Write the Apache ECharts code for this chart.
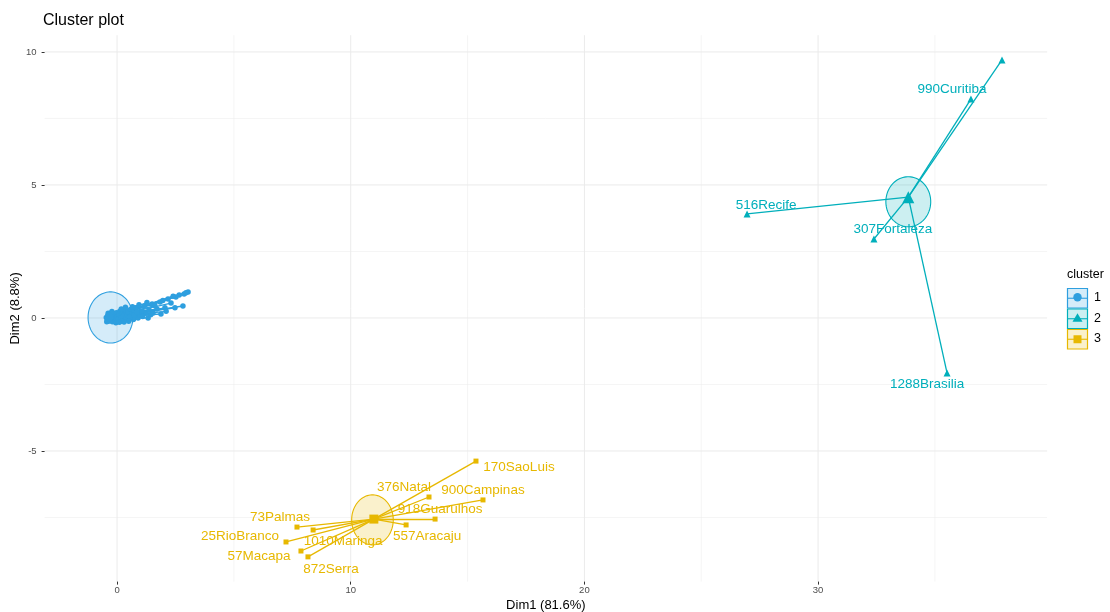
<!DOCTYPE html>
<html>
<head>
<meta charset="utf-8">
<script src="https://cdn.jsdelivr.net/npm/echarts@6/dist/echarts.min.js"></script>
<style>
  html, body { margin: 0; padding: 0; background: #ffffff; }
  #chart { width: 1110px; height: 612px; }
</style>
</head>
<body>
<div id="chart"></div>
<script>
// ---- data -----------------------------------------------------------------
const clusterNames = ['1', '2', '3'];
const clusterColors = ['#2E9FDF', '#00AFBB', '#E7B800'];

// cluster centres (Dim1, Dim2)
const centers = [
  [-0.33, 0.03],
  [33.86, 4.54],
  [10.99, -7.56]
];

// concentration ellipses: [centre x, centre y, radius x, radius y]
const ellipses = [
  [-0.28, 0.02, 0.96, 0.96],
  [33.86, 4.37, 0.96, 0.94],
  [10.93, -7.59, 0.89, 0.94]
];

// cluster 1 observations (unlabelled)
const cluster1Points = [
  [-0.46, 0.02], [-0.42, -0.06], [-0.40, 0.08], [-0.36, -0.12], [-0.33, 0.03],
  [-0.30, 0.12], [-0.27, -0.08], [-0.24, 0.06], [-0.20, -0.14], [-0.17, 0.15],
  [-0.14, 0.00], [-0.10, 0.09], [-0.07, -0.10], [-0.03, 0.20], [0.00, 0.04],
  [0.04, -0.06], [0.08, 0.14], [0.12, 0.25], [0.16, 0.02], [0.20, -0.12],
  [0.24, 0.18], [0.28, 0.08], [0.33, 0.30], [0.38, -0.04], [0.42, 0.12],
  [0.47, 0.22], [0.52, 0.03], [0.58, 0.32], [0.63, 0.15], [0.70, -0.06],
  [0.75, 0.26], [0.81, 0.38], [0.90, 0.00], [0.98, 0.11], [1.16, 0.45],
  [1.24, 0.19], [1.33, 0.00], [1.37, 0.30], [1.50, 0.53], [1.54, 0.19],
  [1.71, 0.34], [1.84, 0.60], [1.88, 0.15], [2.05, 0.38], [2.18, 0.71],
  [2.31, 0.56], [2.48, 0.38], [2.52, 0.79], [2.82, 0.45], [2.87, 0.90],
  [3.04, 0.98], [0.56, 0.04], [0.66, 0.42], [1.05, 0.25], [0.30, -0.15],
  [-0.44, -0.14], [-0.38, 0.18], [-0.22, 0.24], [-0.05, -0.18], [0.10, -0.16],
  [0.18, 0.34], [0.36, 0.40], [0.50, -0.12], [0.72, 0.10], [0.86, 0.22],
  [0.94, 0.50], [1.10, 0.06], [1.28, 0.58], [1.44, 0.12], [1.62, 0.46],
  [1.96, 0.66], [2.10, 0.25], [2.40, 0.82], [2.66, 0.86], [2.95, 0.95]
];

// cluster 2 observations
const cluster2Names = ['990Curitiba', '', '516Recife', '307Fortaleza', '1288Brasilia'];
const cluster2Points = [
  [36.54, 8.23], [37.87, 9.70], [26.96, 3.91], [32.39, 2.97], [35.52, -2.07]
];

// cluster 3 observations
const cluster3Names = ['170SaoLuis', '900Campinas', '376Natal', '918Guarulhos', '557Aracaju',
                       '73Palmas', '1010Maringa', '25RioBranco', '57Macapa', '872Serra'];
const cluster3Points = [
  [15.36, -5.38], [15.66, -6.84], [13.35, -6.73], [13.61, -7.56], [12.37, -7.78],
  [7.70, -7.86], [8.39, -7.97], [7.23, -8.42], [7.87, -8.76], [8.17, -8.98]
];

// axis breaks
const xMajor = [0, 10, 20, 30];
const xMinor = [5, 15, 25, 35];
const yMajor = [-5, 0, 5, 10];
const yMinor = [-7.5, -2.5, 2.5, 7.5];

// ---- label placement (pixel nudges away from each point) -------------------
const cluster2LabelNudge = [[-19, -10], [0, 0], [19, -9], [19, -10], [-20, 11]];
const cluster3LabelNudge = [
  [43, 6], [0, -10], [-25, -10], [5, -10], [21, 11],
  [-17, -10], [30, 11], [-46, -6], [-42, 5], [23, 12]
];

const allPoints = [cluster1Points, cluster2Points, cluster3Points];
const allNames = [null, cluster2Names, cluster3Names];
const allNudges = [null, cluster2LabelNudge, cluster3LabelNudge];
const pointSymbols = ['circle', 'triangle', 'rect'];
const pointSizes = [5.5, 7, 5];
const centerSizes = [9, 12, 9];

const FONT = '"Liberation Sans", Arial, Helvetica, sans-serif';

// ---- series ----------------------------------------------------------------
const series = [];

// background grid lines drawn through the axis scales
const gridData = [];
xMinor.forEach(v => gridData.push([0, v, 0.5]));
yMinor.forEach(v => gridData.push([1, v, 0.5]));
xMajor.forEach(v => gridData.push([0, v, 1]));
yMajor.forEach(v => gridData.push([1, v, 1]));
series.push({
  type: 'custom',
  silent: true,
  z: 0,
  data: gridData,
  renderItem: function (params, api) {
    const cs = params.coordSys;
    const dir = api.value(0);
    const v = api.value(1);
    const w = api.value(2);
    let shape;
    if (dir === 0) {
      const x = api.coord([v, 0])[0];
      shape = { x1: x, y1: cs.y, x2: x, y2: cs.y + cs.height };
    } else {
      const y = api.coord([0, v])[1];
      shape = { x1: cs.x, y1: y, x2: cs.x + cs.width, y2: y };
    }
    return { type: 'line', shape: shape, style: { stroke: '#EBEBEB', lineWidth: w } };
  }
});

// ellipses
ellipses.forEach((e, k) => {
  series.push({
    type: 'custom',
    silent: true,
    z: 1,
    data: [e],
    renderItem: function (params, api) {
      const cx = api.value(0), cy = api.value(1), rx = api.value(2), ry = api.value(3);
      const pts = [];
      for (let i = 0; i < 90; i++) {
        const a = (i / 90) * Math.PI * 2;
        pts.push(api.coord([cx + rx * Math.cos(a), cy + ry * Math.sin(a)]));
      }
      return {
        type: 'polygon',
        shape: { points: pts },
        style: {
          fill: echarts.color.modifyAlpha(clusterColors[k], 0.2),
          stroke: clusterColors[k],
          lineWidth: 1.1
        }
      };
    }
  });
});

// star lines from each centre to its observations
allPoints.forEach((pts, k) => {
  series.push({
    type: 'lines',
    coordinateSystem: 'cartesian2d',
    silent: true,
    z: 2,
    lineStyle: { color: clusterColors[k], width: 1.3, opacity: 1 },
    data: pts.map(p => ({ coords: [centers[k], p] }))
  });
});

// observations with their labels
allPoints.forEach((pts, k) => {
  series.push({
    type: 'scatter',
    z: 3,
    silent: true,
    symbol: pointSymbols[k],
    symbolSize: pointSizes[k],
    itemStyle: { color: clusterColors[k], opacity: 1 },
    label: { show: false },
    data: pts.map((p, i) => {
      const item = { value: p };
      const names = allNames[k];
      if (names && names[i]) {
        item.name = names[i];
        item.label = {
          show: true,
          position: 'inside',
          offset: allNudges[k][i],
          formatter: '{b}',
          color: clusterColors[k],
          fontFamily: FONT,
          fontSize: 13.5
        };
      }
      return item;
    })
  });
});

// cluster centres
centers.forEach((c, k) => {
  series.push({
    type: 'scatter',
    z: 4,
    silent: true,
    symbol: pointSymbols[k],
    symbolSize: centerSizes[k],
    itemStyle: { color: clusterColors[k], opacity: 1 },
    data: [c]
  });
});

// ---- legend (drawn as graphics) --------------------------------------------
const legendGraphics = [{
  type: 'text',
  left: 1067, top: 268,
  style: { text: 'cluster', font: '12.5px ' + FONT, fill: '#000000' }
}];
clusterNames.forEach((name, k) => {
  const y0 = 288 + k * 20.5;
  const cx = 1077.5, cy = y0 + 10.25;
  legendGraphics.push({
    type: 'rect',
    shape: { x: 1067.5, y: y0 + 0.5, width: 20, height: 19.5 },
    style: { fill: echarts.color.modifyAlpha(clusterColors[k], 0.2), stroke: clusterColors[k], lineWidth: 1.2 }
  });
  legendGraphics.push({
    type: 'line',
    shape: { x1: 1068, y1: cy, x2: 1087, y2: cy },
    style: { stroke: clusterColors[k], lineWidth: 1.1 }
  });
  let marker;
  if (k === 0) {
    marker = { type: 'circle', shape: { cx: cx, cy: cy - 1, r: 4.2 }, style: { fill: clusterColors[k] } };
  } else if (k === 1) {
    marker = { type: 'polygon', shape: { points: [[cx, cy - 5.5], [cx - 5, cy + 3], [cx + 5, cy + 3]] }, style: { fill: clusterColors[k] } };
  } else {
    marker = { type: 'rect', shape: { x: cx - 4, y: cy - 4, width: 8, height: 8 }, style: { fill: clusterColors[k] } };
  }
  legendGraphics.push(marker);
  legendGraphics.push({
    type: 'text',
    left: 1094, top: cy - 7,
    style: { text: name, font: '12.5px ' + FONT, fill: '#000000' }
  });
});

// ---- chart -----------------------------------------------------------------
const chart = echarts.init(document.getElementById('chart'), null, { renderer: 'canvas' });
chart.setOption({
  animation: false,
  backgroundColor: '#ffffff',
  title: {
    text: 'Cluster plot',
    left: 43, top: 13, padding: 0,
    textStyle: { fontFamily: FONT, fontSize: 16, fontWeight: 'normal', color: '#000000' }
  },
  grid: { left: 44.6, right: 62.9, top: 35.2, bottom: 30.4, containLabel: false, outerBoundsMode: 'none' },
  xAxis: {
    type: 'value',
    min: -3.1, max: 39.8,
    name: 'Dim1 (81.6%)',
    nameLocation: 'middle',
    nameGap: 17,
    nameMoveOverlap: false,
    nameTextStyle: { fontFamily: FONT, fontSize: 13, color: '#000000' },
    axisLine: { show: false, onZero: false },
    splitLine: { show: false },
    axisTick: { show: true, customValues: xMajor, length: 3, lineStyle: { color: '#333333', width: 1 } },
    axisLabel: { customValues: xMajor, margin: 4, fontFamily: FONT, fontSize: 9.5, color: '#4D4D4D' }
  },
  yAxis: {
    type: 'value',
    min: -9.91, max: 10.63,
    name: 'Dim2 (8.8%)',
    nameLocation: 'middle',
    nameGap: 23,
    nameRotate: 90,
    nameMoveOverlap: false,
    nameTextStyle: { fontFamily: FONT, fontSize: 13, color: '#000000' },
    axisLine: { show: false, onZero: false },
    splitLine: { show: false },
    axisTick: { show: true, customValues: yMajor, length: 3, lineStyle: { color: '#333333', width: 1 } },
    axisLabel: { customValues: yMajor, margin: 8, fontFamily: FONT, fontSize: 9.5, color: '#4D4D4D' }
  },
  graphic: legendGraphics,
  series: series
});
</script>
</body>
</html>
